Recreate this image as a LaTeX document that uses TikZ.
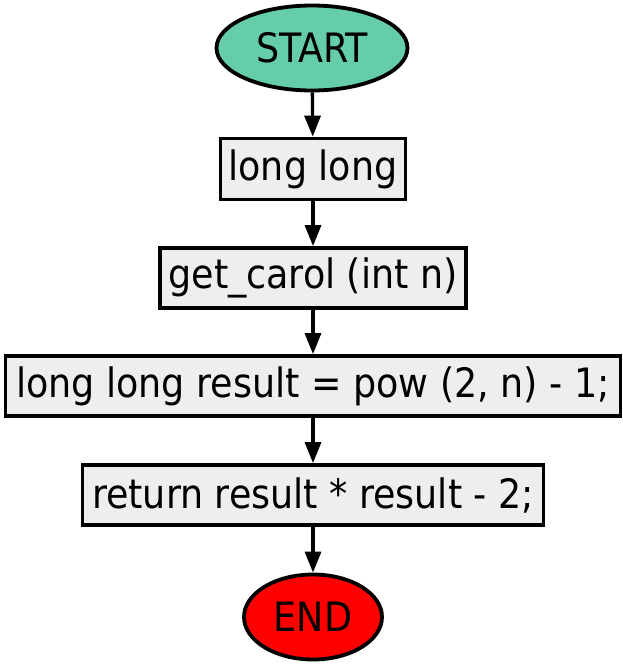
\documentclass[tikz,border=0pt]{standalone}
\usepackage{fontspec}
\setmainfont{DejaVu Sans Condensed}
\usetikzlibrary{shapes.geometric,arrows.meta}
\definecolor{startc}{RGB}{102,205,170}
\definecolor{boxc}{RGB}{238,238,238}
\definecolor{endc}{RGB}{255,0,0}
\begin{document}
\begin{tikzpicture}[x=1pt,y=-1pt,
  every node/.style={font=\fontsize{40.5}{44}\selectfont, inner sep=0pt, line width=3.8pt, draw=black},
  term/.style={ellipse},
  proc/.style={rectangle, fill=boxc},
  flow/.style={line width=3.3pt, -{Triangle[length=21pt,width=16pt]}}]
\useasboundingbox (0,0) rectangle (623,665);
\node[term, fill=startc, minimum width=191pt, minimum height=85pt] (start) at (312,48) {START};
\node[proc, minimum width=185pt, minimum height=61pt] (b1) at (313,169) {long long};
\node[proc, minimum width=306pt, minimum height=60pt] (b2) at (313,278) {get\_carol (int n)};
\node[proc, minimum width=615pt, minimum height=60pt] (b3) at (313,386) {long long result = pow (2, n) - 1;};
\node[proc, minimum width=461pt, minimum height=60pt] (b4) at (313,495) {return result * result - 2;};
\node[term, fill=endc, minimum width=138pt, minimum height=85pt] (end) at (313,617) {END};
\draw[flow] (start) -- (b1);
\draw[flow] (b1) -- (b2);
\draw[flow] (b2) -- (b3);
\draw[flow] (b3) -- (b4);
\draw[flow] (b4) -- (end);
\end{tikzpicture}
\end{document}
